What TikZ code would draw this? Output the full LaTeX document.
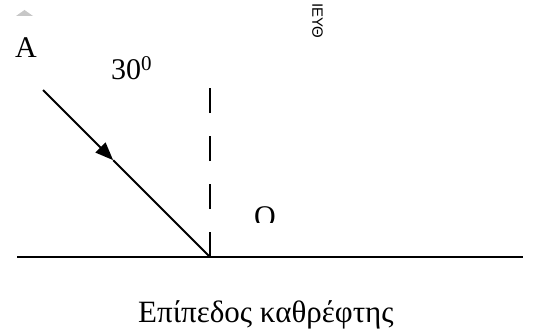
\documentclass[tikz,border=0pt]{standalone}
\usepackage{fontspec}
\setmainfont{Liberation Serif}
\newfontfamily\rotfont{Liberation Sans}
\usetikzlibrary{arrows.meta,calc}
\begin{document}
\begin{tikzpicture}[x=1pt,y=-1pt,
  lbl/.style={inner sep=0pt,font=\fontsize{30}{34}\selectfont},
  ln/.style={line width=1.8pt},
  rayarrow/.style={ln,-{Triangle[length=18pt,width=14pt]}},
  normal/.style={ln,dash pattern=on 25pt off 23pt}]
\useasboundingbox (0,0) rectangle (533,329);
% small grey mark
\fill[black!22] (16,16) -- (24.5,10) -- (33,16) -- cycle;
% rotated fragment
\node[inner sep=0pt,rotate=-90,anchor=south west,font=\rotfont\fontsize{15}{17}\selectfont,text=black] (frag) at (312,3) {ΙΕΥΘ};
% geometry
\coordinate (L) at (17,257);
\coordinate (R) at (523,257);
\coordinate (O) at (210,257);
\coordinate (S) at (43,90);
\coordinate (T) at (210,88);
\coordinate (M) at ($(S)!0.42!(O)$);
\draw[ln] (L) -- (R);
\draw[normal] (O) -- (T);
\draw[rayarrow] (S) -- (M);
\draw[ln] (M) -- (O);
% labels
\node[lbl,anchor=base west] (A) at (15,58) {A};
\node[lbl,anchor=base west] (ang) at (111,80) {30\textsuperscript{0}};
\begin{scope}
\clip (240,190) rectangle (290,222);
\node[lbl,anchor=base west] (Olbl) at (254,226) {O};
\end{scope}
\node[lbl,anchor=base west,font=\fontsize{31}{35}\selectfont] (cap) at (138,322) {Επίπεδος καθρέφτης};
\end{tikzpicture}
\end{document}
